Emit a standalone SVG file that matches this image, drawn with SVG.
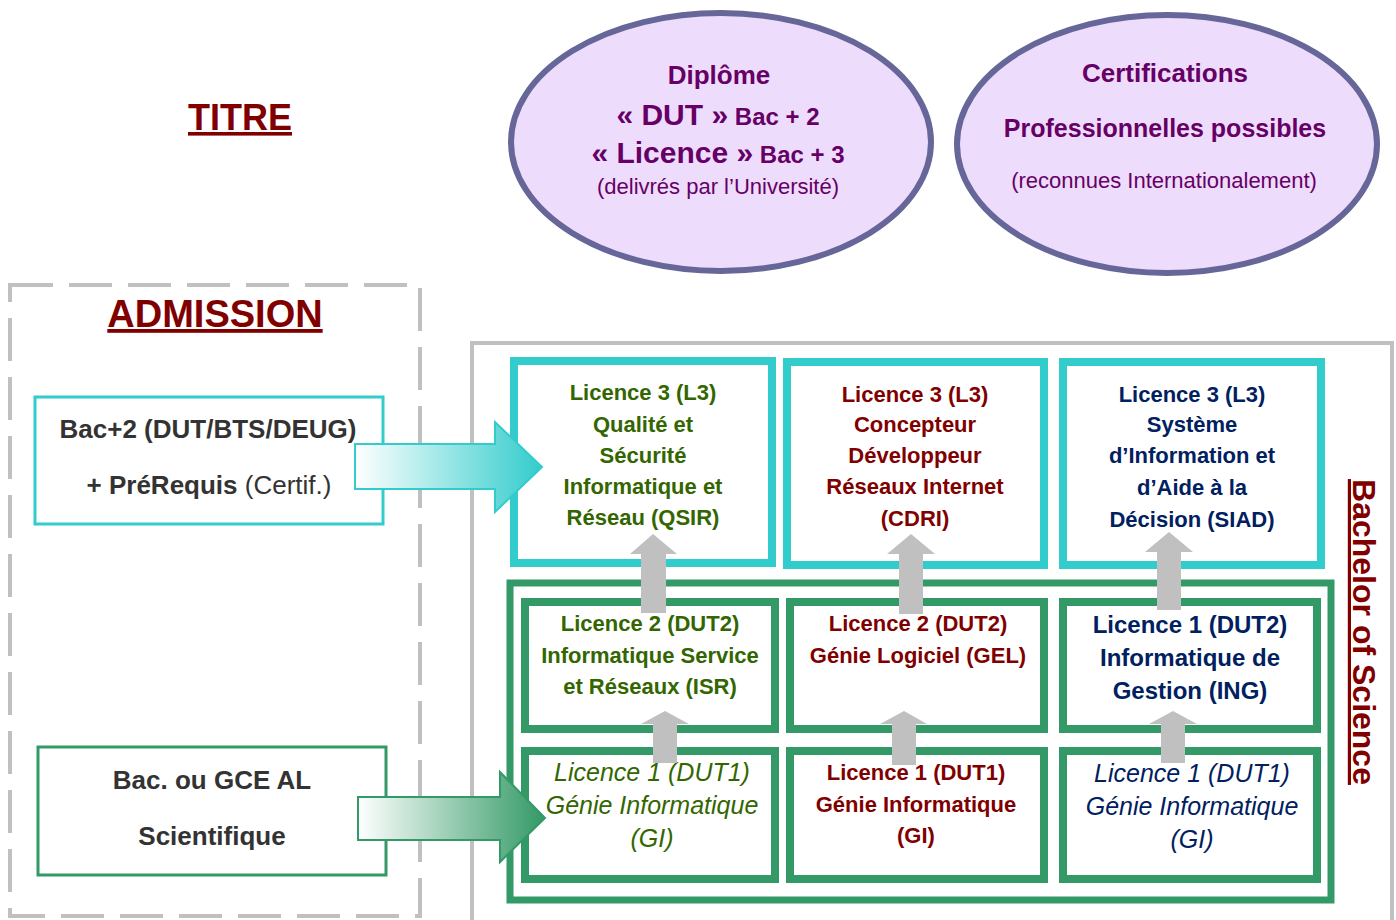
<svg xmlns="http://www.w3.org/2000/svg" width="1396" height="920" viewBox="0 0 1396 920">
<style>
text{font-family:"Liberation Sans",Arial,sans-serif;text-anchor:middle;font-weight:bold}
.ell{fill:#eedcfc;stroke:#666699;stroke-width:6}
.pur{fill:#660066}
.reg{font-weight:normal}
.teal{fill:#fff;stroke:#33cccc;stroke-width:8}
.grn{fill:#fff;stroke:#339966;stroke-width:8}
.g{fill:#336600}
.r{fill:#800000}
.n{fill:#002060}
.dk{fill:#333333}
.up{fill:#c0c0c0}
.it{font-style:italic;font-weight:normal}
.t22{font-size:22px}
</style>
<defs>
<linearGradient id="gT" x1="355" y1="0" x2="542" y2="0" gradientUnits="userSpaceOnUse">
<stop offset="0" stop-color="#ffffff"/><stop offset="1" stop-color="#33cccc"/>
</linearGradient>
<linearGradient id="gG" x1="358" y1="0" x2="545" y2="0" gradientUnits="userSpaceOnUse">
<stop offset="0" stop-color="#ffffff"/><stop offset="1" stop-color="#339966"/>
</linearGradient>
</defs>
<rect width="1396" height="920" fill="#ffffff"/>

<g id="titre"><text x="240" y="130" font-size="36" class="r" text-decoration="underline">TITRE</text></g>

<g id="diplome">
<ellipse class="ell" cx="721" cy="142" rx="210" ry="129"/>
<text class="pur" x="719" y="84" font-size="26">Diplôme</text>
<text class="pur" x="718" y="125"><tspan font-size="30">« DUT »</tspan><tspan font-size="24"> Bac + 2</tspan></text>
<text class="pur" x="718" y="163"><tspan font-size="30">« Licence »</tspan><tspan font-size="24"> Bac + 3</tspan></text>
<text class="pur reg" x="718" y="194" font-size="22">(delivrés par l’Université)</text>
</g>

<g id="certifications">
<ellipse class="ell" cx="1167" cy="144" rx="210" ry="129"/>
<text class="pur" x="1165" y="82" font-size="26">Certifications</text>
<text class="pur" x="1165" y="137" font-size="25">Professionnelles possibles</text>
<text class="pur reg" x="1164" y="188" font-size="22">(reconnues Internationalement)</text>
</g>

<g id="admission">
<rect x="10" y="285" width="410" height="631" fill="none" stroke="#c0c0c0" stroke-width="4" stroke-dasharray="43 16"/>
<text x="215" y="327" font-size="38" class="r" text-decoration="underline">ADMISSION</text>
</g>

<g id="bac2">
<rect x="35" y="397" width="348" height="127" fill="#fff" stroke="#33cccc" stroke-width="3"/>
<text class="dk" x="208" y="438" font-size="26">Bac+2 (DUT/BTS/DEUG)</text>
<text class="dk" x="209" y="494" font-size="26">+ PréRequis<tspan class="reg"> (Certif.)</tspan></text>
</g>

<g id="bac">
<rect x="38" y="747" width="348" height="128" fill="#fff" stroke="#339966" stroke-width="3"/>
<text class="dk" x="212" y="789" font-size="26">Bac. ou GCE AL</text>
<text class="dk" x="212" y="845" font-size="26">Scientifique</text>
</g>

<g id="bachelor">
<rect x="472" y="343" width="920" height="610" fill="none" stroke="#c0c0c0" stroke-width="4"/>
<text transform="translate(1353,632) rotate(90)" font-size="32" class="r" text-decoration="underline">Bachelor of Science</text>
</g>

<g id="l3-qsir">
<rect class="teal" x="514" y="361" width="258" height="202"/>
<text class="g t22" x="643" y="400">Licence 3 (L3)</text>
<text class="g t22" x="643" y="432">Qualité et</text>
<text class="g t22" x="643" y="463">Sécurité</text>
<text class="g t22" x="643" y="494">Informatique et</text>
<text class="g t22" x="643" y="525">Réseau (QSIR)</text>
</g>

<g id="l3-cdri">
<rect class="teal" x="787" y="362" width="257" height="203"/>
<text class="r t22" x="915" y="402">Licence 3 (L3)</text>
<text class="r t22" x="915" y="432">Concepteur</text>
<text class="r t22" x="915" y="463">Développeur</text>
<text class="r t22" x="915" y="494">Réseaux Internet</text>
<text class="r t22" x="915" y="526">(CDRI)</text>
</g>

<g id="l3-siad">
<rect class="teal" x="1063" y="362" width="258" height="203"/>
<text class="n t22" x="1192" y="402">Licence 3 (L3)</text>
<text class="n t22" x="1192" y="432">Système</text>
<text class="n t22" x="1192" y="463">d’Information et</text>
<text class="n t22" x="1192" y="495">d’Aide à la</text>
<text class="n t22" x="1192" y="527">Décision (SIAD)</text>
</g>

<g id="dut-cadre">
<rect x="510" y="583" width="821" height="317" fill="none" stroke="#339966" stroke-width="7"/>
</g>

<g id="l2-isr">
<rect class="grn" x="525" y="602" width="250" height="127"/>
<text class="g t22" x="650" y="631">Licence 2 (DUT2)</text>
<text class="g t22" x="650" y="663">Informatique Service</text>
<text class="g t22" x="650" y="694">et Réseaux (ISR)</text>
</g>

<g id="l2-gel">
<rect class="grn" x="790" y="602" width="254" height="127"/>
<text class="r t22" x="918" y="631">Licence 2 (DUT2)</text>
<text class="r t22" x="918" y="663">Génie Logiciel (GEL)</text>
</g>

<g id="l2-ing">
<rect class="grn" x="1063" y="602" width="254" height="127"/>
<text class="n" font-size="24" x="1190" y="633">Licence 1 (DUT2)</text>
<text class="n" font-size="24" x="1190" y="666">Informatique de</text>
<text class="n" font-size="24" x="1190" y="699">Gestion (ING)</text>
</g>

<g id="l1-gi-1">
<rect class="grn" x="525" y="751" width="250" height="128"/>
<text class="g it" font-size="25" x="652" y="781">Licence 1 (DUT1)</text>
<text class="g it" font-size="25" x="652" y="814">Génie Informatique</text>
<text class="g it" font-size="25" x="652" y="847">(GI)</text>
</g>

<g id="l1-gi-2">
<rect class="grn" x="790" y="751" width="254" height="128"/>
<text class="r t22" x="916" y="780">Licence 1 (DUT1)</text>
<text class="r t22" x="916" y="812">Génie Informatique</text>
<text class="r t22" x="916" y="843">(GI)</text>
</g>

<g id="l1-gi-3">
<rect class="grn" x="1063" y="751" width="254" height="128"/>
<text class="n it" font-size="25" x="1192" y="782">Licence 1 (DUT1)</text>
<text class="n it" font-size="25" x="1192" y="815">Génie Informatique</text>
<text class="n it" font-size="25" x="1192" y="848">(GI)</text>
</g>

<g id="connectors">
<polygon fill="url(#gT)" stroke="#33cccc" stroke-width="2" points="355,444 495,444 495,422 542,467 495,512 495,489 355,489"/>
<polygon fill="url(#gG)" stroke="#339966" stroke-width="2" points="358,797 500,797 500,772 545,818 500,862 500,840 358,840"/>
<polygon class="up" points="653,534 677,554 666,554 666,613 641,613 641,554 630,554"/>
<polygon class="up" points="911,534 935,554 923,554 923,614 899,614 899,554 887,554"/>
<polygon class="up" points="1169,532 1193,552 1181,552 1181,610 1157,610 1157,552 1145,552"/>
<polygon class="up" points="665,711 689,724 677,724 677,763 653,763 653,724 641,724"/>
<polygon class="up" points="904,711 927,724 916,724 916,765 892,765 892,724 880,724"/>
<polygon class="up" points="1173,711 1197,724 1185,724 1185,763 1161,763 1161,724 1149,724"/>
</g>
</svg>
